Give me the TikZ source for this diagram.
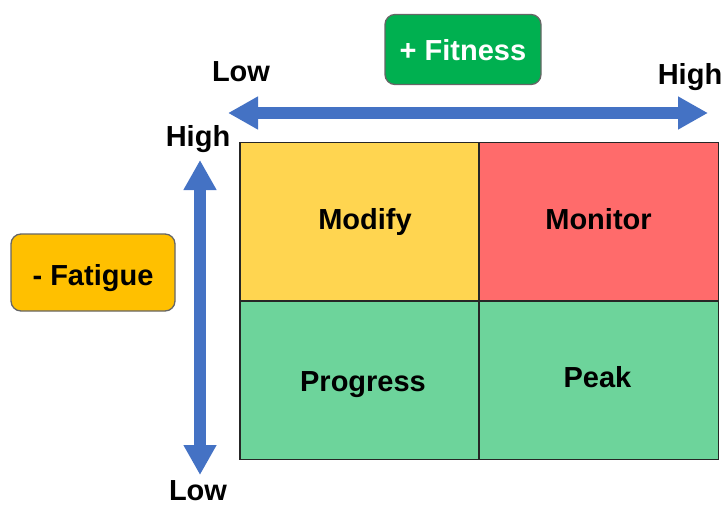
\documentclass[tikz,border=0pt]{standalone}
\usepackage{fontspec}
\setmainfont{Liberation Sans}
\usetikzlibrary{arrows.meta}

\definecolor{axisblue}{RGB}{68,114,196}
\definecolor{modifyyellow}{RGB}{255,213,80}
\definecolor{monitorred}{RGB}{255,107,107}
\definecolor{goodgreen}{RGB}{109,212,155}
\definecolor{fitgreen}{RGB}{0,176,80}
\definecolor{fatorange}{RGB}{255,192,0}

\begin{document}
\begin{tikzpicture}[x=1pt,y=-1pt,
    every node/.style={font=\fontsize{29}{34}\selectfont\bfseries},
    word/.style={anchor=base,inner sep=0pt},
    cell/.style={draw=black!85,line width=1.3pt,minimum width=239pt,minimum height=158pt,inner sep=0pt},
    tag/.style={draw=black!60,line width=1.3pt,rounded corners=10pt,inner sep=0pt,text depth=0pt},
    axis/.style={axisblue,line width=12pt,{Triangle[length=30pt,width=31pt]}-{Triangle[length=30pt,width=31pt]}}]
  \useasboundingbox (0,0) rectangle (725,506);

  % quadrants
  \node[cell,fill=modifyyellow] (modify) at (359.5,221.5) {};
  \node[cell,fill=monitorred] (monitor) at (599,221.5) {};
  \node[cell,fill=goodgreen] (progress) at (359.5,380.5) {};
  \node[cell,fill=goodgreen] (peak) at (599,380.5) {};
  \node[word] (modifytxt) at (365,229) {Modify};
  \node[word] (monitortxt) at (598.5,229) {Monitor};
  \node[word] (progresstxt) at (363,391) {Progress};
  \node[word] (peaktxt) at (597.5,387) {Peak};

  % fitness axis
  \coordinate (fitlow) at (228,113);
  \coordinate (fithigh) at (708,113);
  \draw[axis] (fitlow) -- (fithigh);
  \node[word] (lowx) at (241,81.5) {Low};
  \node[word] (highx) at (690,84.5) {High};
  \node[tag,fill=fitgreen,text=white,minimum width=156pt,minimum height=70pt,text height=22.4pt] (fitness) at (463,49.5) {+ Fitness};

  % fatigue axis
  \coordinate (fathigh) at (200,160);
  \coordinate (fatlow) at (200,475);
  \draw[axis] (fathigh) -- (fatlow);
  \node[word] (highy) at (198,146) {High};
  \node[word] (lowy) at (198,500) {Low};
  \node[tag,fill=fatorange,minimum width=164pt,minimum height=77pt,text height=25pt] (fatigue) at (93,272.5) {- Fatigue};
\end{tikzpicture}
\end{document}
